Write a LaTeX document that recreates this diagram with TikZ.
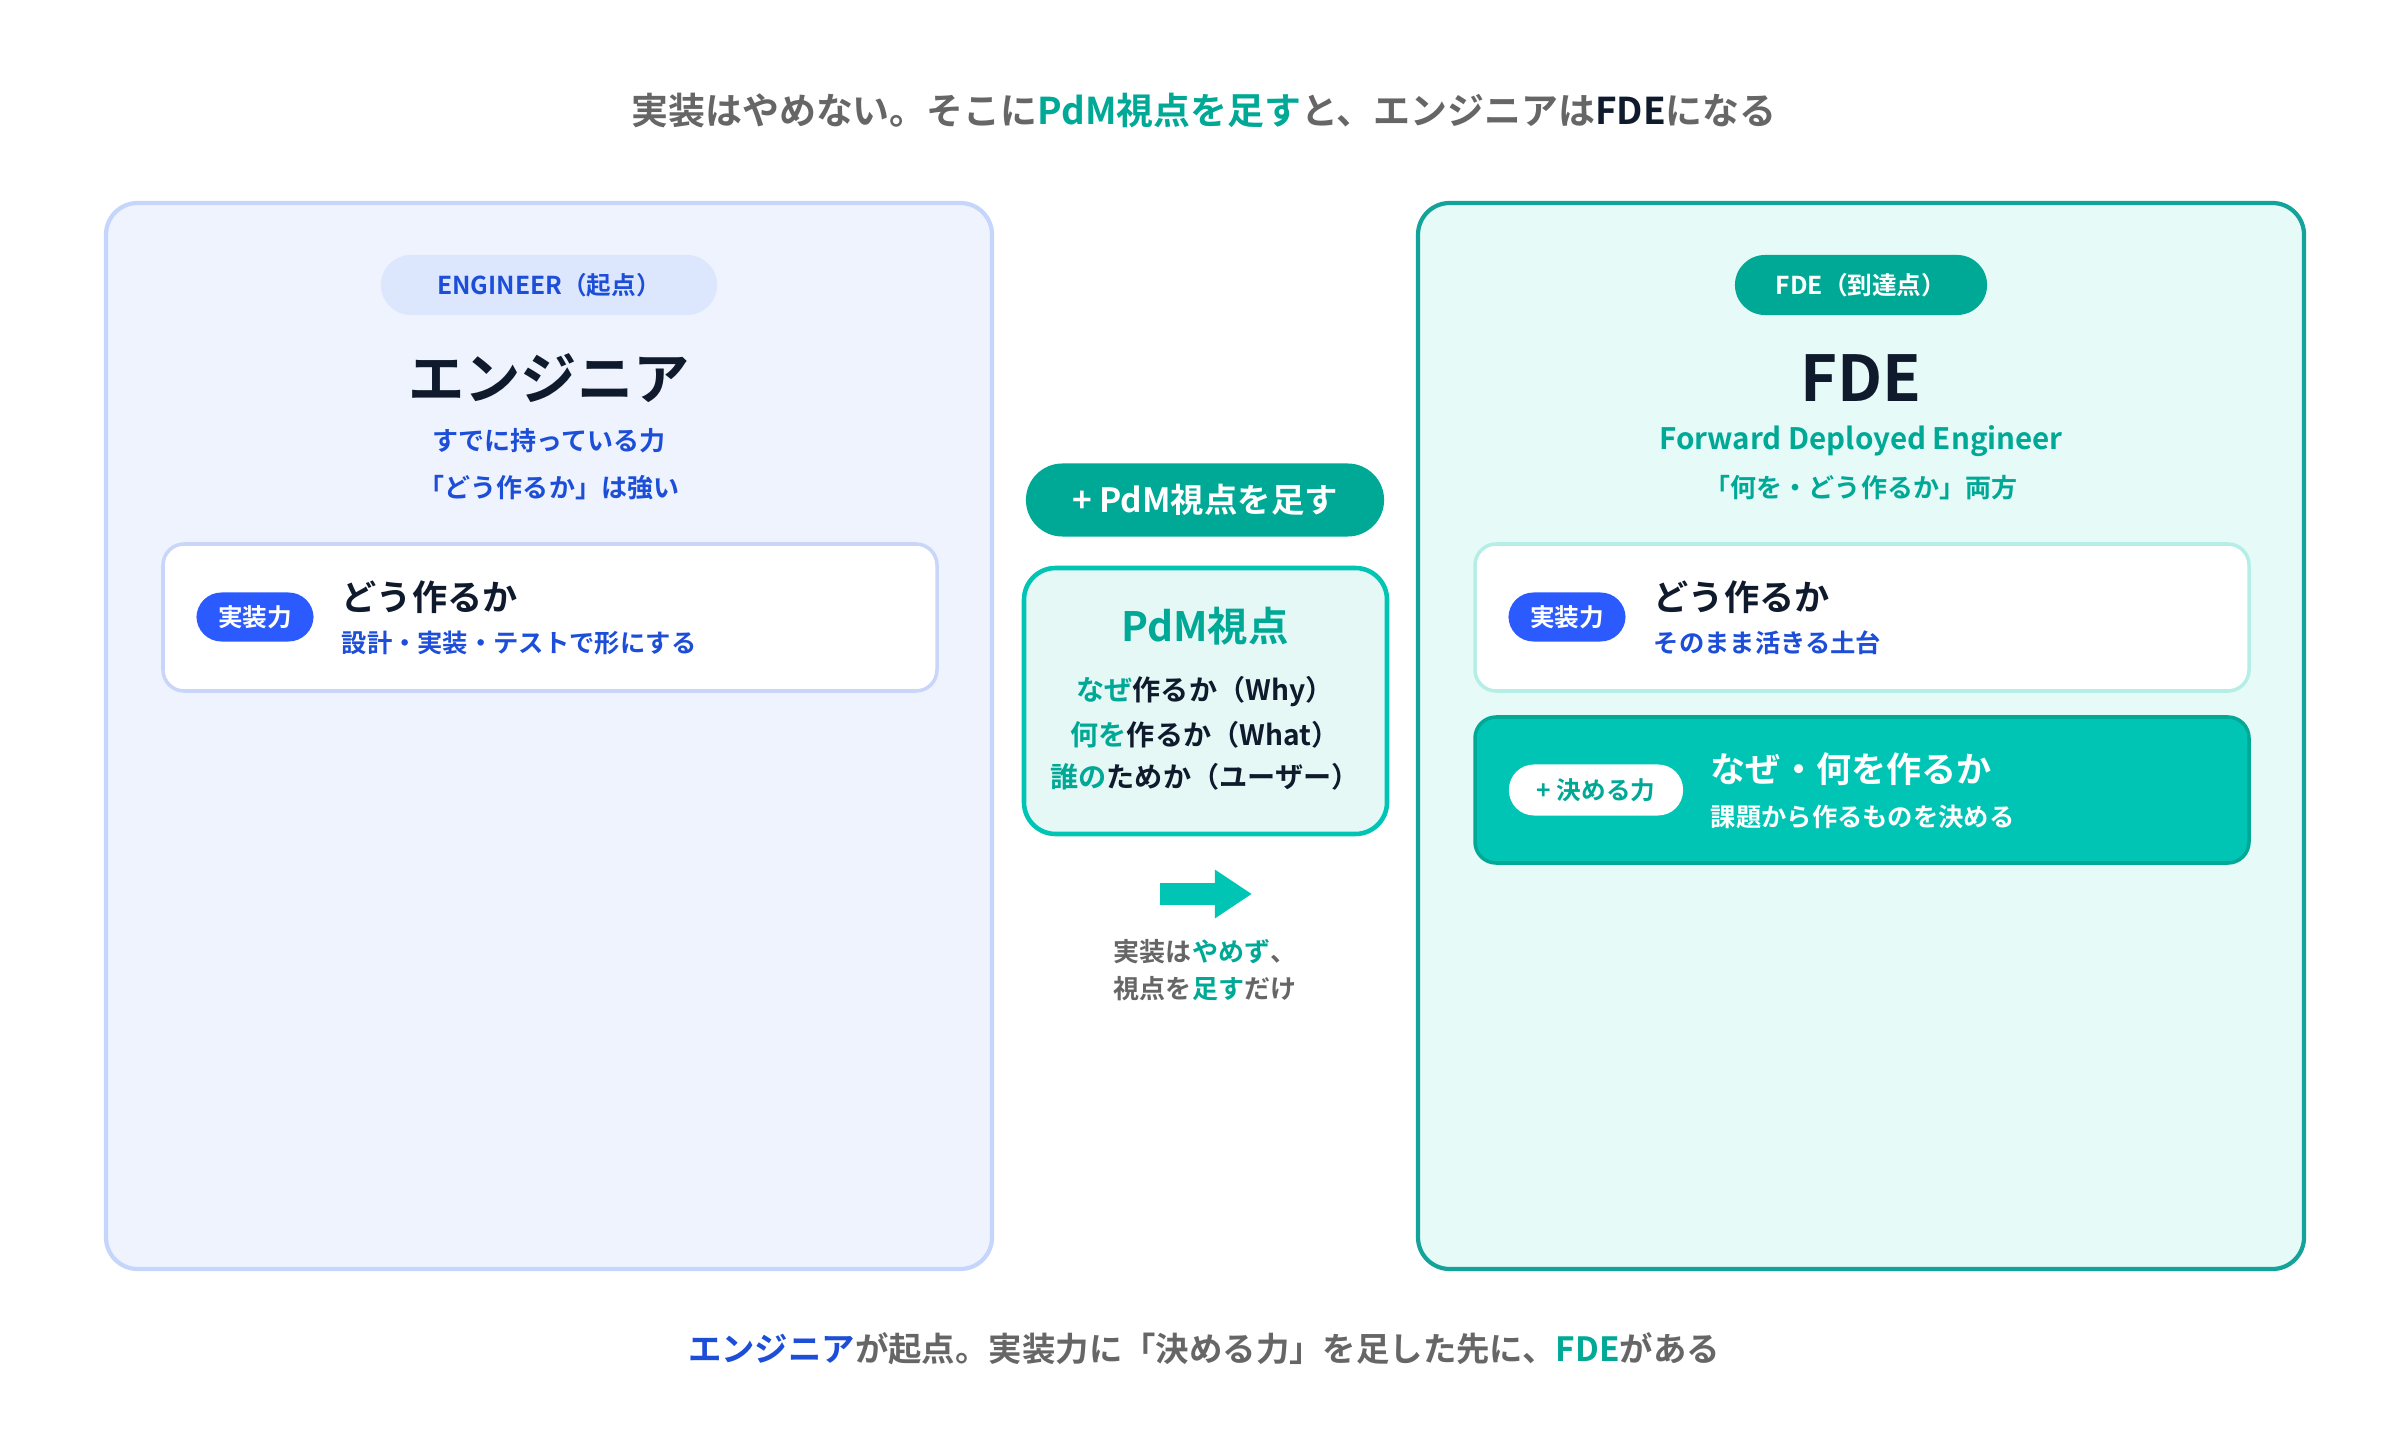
\documentclass[tikz,border=0pt]{standalone}
\usepackage{fontspec}
\setmainfont{Noto Sans CJK JP}[BoldFont=* Bold]
\usetikzlibrary{arrows.meta}
\definecolor{navy}{HTML}{0F1B2D}
\definecolor{blu}{HTML}{1D4ED8}
\definecolor{blubright}{HTML}{2B5BFF}
\definecolor{tealdk}{HTML}{00A896}
\definecolor{tealbr}{HTML}{00C4B4}
\definecolor{graytxt}{HTML}{666666}
\tikzset{
  panel/.style={draw, rounded corners=9pt, line width=1.2pt},
  card/.style={draw, rounded corners=6pt, line width=1pt},
  pill/.style={rounded corners=#1, font=\bfseries\fontsize{7}{8}\selectfont, inner sep=0pt},
  pill/.default=0.25cm,
  lbl/.style={font=\bfseries\fontsize{#1}{#1}\selectfont, inner sep=0pt},
}
\begin{document}
\begin{tikzpicture}[x=0.01cm,y=-0.01cm]
\useasboundingbox (0,0) rectangle (2400,1440);

% title
\node[lbl=10.5, text=graytxt] (title) at (1204,111) {実装はやめない。そこに\textcolor{tealdk}{PdM視点を足す}と、エンジニアは\textcolor{navy}{FDE}になる};

% left panel
\filldraw[panel, fill={rgb,255:red,238;green,243;blue,254}, draw={rgb,255:red,197;green,213;blue,251}] (106,203) rectangle (992,1269);
\node[pill=0.3cm, fill={rgb,255:red,220;green,230;blue,253}, text=blu, minimum width=3.36cm, minimum height=0.6cm] (engpill) at (549,285) {ENGINEER（起点）};
\node[lbl=16, text=navy] (eng) at (549,378) {エンジニア};
\node[lbl=7.4, text=blu] (engsub1) at (549,441) {すでに持っている力};
\node[lbl=7.4, text=blu] (engsub2) at (549,488) {「どう作るか」は強い};
\filldraw[card, fill=white, draw={rgb,255:red,201;green,214;blue,250}] (163,544) rectangle (937,691);
\node[pill, fill=blubright, text=white, minimum width=1.17cm, minimum height=0.49cm] (implL) at (255,617) {実装力};
\node[lbl=10, text=navy, anchor=west] (howL) at (341,597) {どう作るか};
\node[lbl=7.2, text=blu, anchor=west] (howLsub) at (341,643) {設計・実装・テストで形にする};

% middle
\node[pill=0.365cm, fill=tealdk, text=white, minimum width=3.58cm, minimum height=0.73cm, font=\bfseries\fontsize{9.5}{9.5}\selectfont] (add) at (1205,500) {+ PdM視点を足す};
\filldraw[card, rounded corners=9pt, line width=1.3pt, fill={rgb,255:red,230;green,248;blue,246}, draw=tealbr] (1024,568) rectangle (1387,834);
\node[lbl=11.5, text=tealdk] (pdm) at (1205,626) {PdM視点};
\node[lbl=8, text=navy] (why) at (1205,692) {\textcolor{tealdk}{なぜ}作るか（Why）};
\node[lbl=8, text=navy] (what) at (1205,735) {\textcolor{tealdk}{何を}作るか（What）};
\node[lbl=8, text=navy] (who) at (1205,777) {\textcolor{tealdk}{誰の}ためか（ユーザー）};
\coordinate (arrS) at (1160,894);
\coordinate (arrE) at (1252,894);
\draw[tealbr, line width=6pt, -{Triangle[length=0.37cm, width=0.46cm]}] (arrS) -- (arrE);
\node[lbl=7.4, text=graytxt] (keep1) at (1205,952) {実装は\textcolor{tealdk}{やめず}、};
\node[lbl=7.4, text=graytxt] (keep2) at (1205,989) {視点を\textcolor{tealdk}{足す}だけ};

% right panel
\filldraw[panel, fill={rgb,255:red,230;green,250;blue,247}, draw={rgb,255:red,20;green,163;blue,154}] (1418,203) rectangle (2304,1269);
\node[pill=0.3cm, fill=tealdk, text=white, minimum width=2.52cm, minimum height=0.6cm] (fdepill) at (1861,285) {FDE（到達点）};
\node[lbl=18, text=navy] (fde) at (1861,378) {FDE};
\node[lbl=8.4, text=tealdk] (fdesub1) at (1861,441) {Forward Deployed Engineer};
\node[lbl=7.4, text=tealdk] (fdesub2) at (1861,488) {「何を・どう作るか」両方};
\filldraw[card, fill=white, draw={rgb,255:red,181;green,238;blue,230}] (1475,544) rectangle (2249,691);
\node[pill, fill=blubright, text=white, minimum width=1.17cm, minimum height=0.49cm] (implR) at (1567,617) {実装力};
\node[lbl=10, text=navy, anchor=west] (howR) at (1653,597) {どう作るか};
\node[lbl=7.2, text=blu, anchor=west] (howRsub) at (1653,643) {そのまま活きる土台};
\filldraw[card, fill=tealbr, draw=tealdk] (1475,717) rectangle (2249,863);
\node[pill, fill=white, text=tealdk, minimum width=1.74cm, minimum height=0.51cm] (decide) at (1596,790) {+ 決める力};
\node[lbl=10, text=white, anchor=west] (whyR) at (1710,769) {なぜ・何を作るか};
\node[lbl=7.2, text=white, anchor=west] (whyRsub) at (1710,817) {課題から作るものを決める};

% caption
\node[lbl=9.5, text=graytxt] (cap) at (1204,1349) {\textcolor{blu}{エンジニア}が起点。実装力に「決める力」を足した先に、\textcolor{tealdk}{FDE}がある};
\end{tikzpicture}
\end{document}
